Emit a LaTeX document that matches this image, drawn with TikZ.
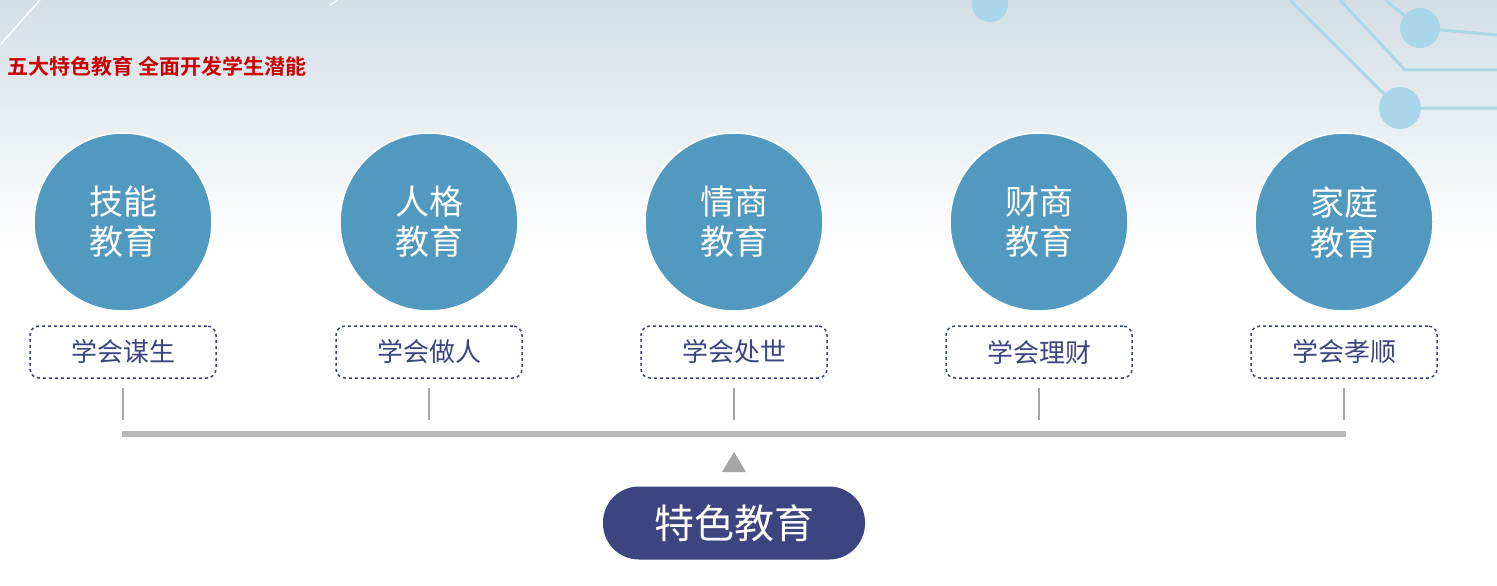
\documentclass[tikz,border=0pt]{standalone}
\usepackage{fontspec}
\newfontfamily\cjk{Noto Sans CJK SC}
\newfontfamily\cjkb{Noto Sans CJK SC Bold}
\definecolor{circ}{HTML}{5299C0}
\definecolor{navy}{HTML}{3D4580}
\definecolor{deco}{HTML}{A9D6E8}
\definecolor{bgtop}{HTML}{D3DEE5}
\tikzset{
  edu/.style={circle,fill=circ,draw=white,line width=1.5pt,minimum size=178pt,inner sep=0,align=center,text=white,font=\cjk\fontsize{34}{42}\selectfont},
  tag/.style={draw=navy,dashed,line width=1.5pt,rounded corners=9pt,minimum width=186pt,minimum height=52pt,text=navy,font=\cjk\fontsize{26}{30}\selectfont},
  tick/.style={draw=gray!70,line width=2pt},
}
\begin{document}
\begin{tikzpicture}[x=1pt,y=-1pt]
\useasboundingbox (0,0) rectangle (1497,586);
\shade[top color=bgtop,bottom color=white] (0,0) rectangle (1497,250);
\fill[white] (0,250) rectangle (1497,586);
% decorations
\draw[white,line width=1.5pt] (0,45) -- (40,0);
\draw[white,line width=1.5pt] (330,5) -- (338,0);
\fill[deco] (990,4) circle (18);
\draw[deco,line width=3pt] (1290,0) -- (1380,90) -- (1400,108) -- (1497,108);
\draw[deco,line width=3pt] (1340,0) -- (1405,70) -- (1497,70);
\draw[deco,line width=3pt] (1385,0) -- (1420,28) -- (1497,35);
\fill[deco] (1420,28) circle (20);
\fill[deco] (1400,108) circle (21);
\node[font=\cjkb\fontsize{21}{24}\selectfont,text=red!80!black,anchor=west] (title) at (4,66) {五大特色教育\ 全面开发学生潜能};
\draw[gray!55,line width=6pt] (122,434) -- (1346,434);
\foreach \i/\x/\a/\b/\t in {1/123/技能/教育/学会谋生,2/429/人格/教育/学会做人,3/734/情商/教育/学会处世,4/1039/财商/教育/学会理财,5/1344/家庭/教育/学会孝顺}{
  \node[edu] (c\i) at (\x,222) {\a\\[-2pt]\b};
  \node[tag] (t\i) at (\x,352) {\t};
  \coordinate (k\i) at (\x,420);
  \draw[tick] (\x,388) -- (k\i);
}
\fill[gray!70] (722,472) -- (746,472) -- (734,452) -- cycle;
\node[fill=navy,rounded corners=36pt,minimum width=262pt,minimum height=73pt,text=white,font=\cjk\fontsize{40}{46}\selectfont] (main) at (734,523) {特色教育};
\end{tikzpicture}
\end{document}
